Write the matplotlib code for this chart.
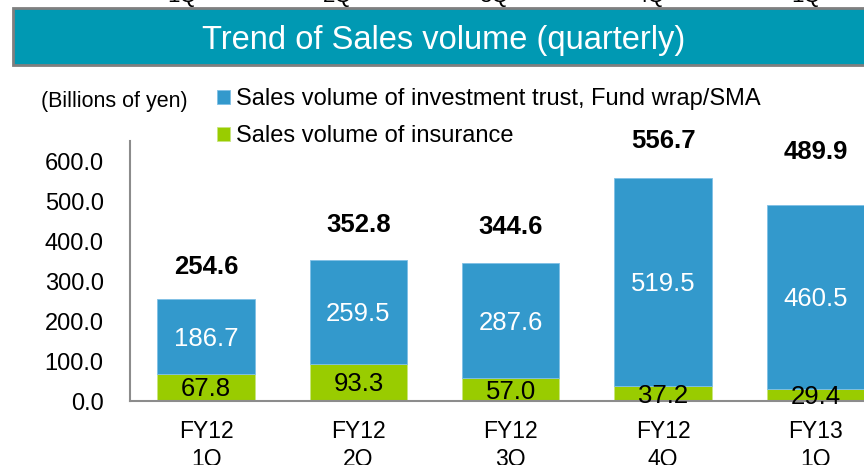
import matplotlib
matplotlib.use("Agg")
import matplotlib.pyplot as plt
from matplotlib.patches import Rectangle

plt.rcParams['font.family'] = ['Liberation Sans', 'DejaVu Sans']

# data (billions of yen)
quarters = ['FY12\n1Q', 'FY12\n2Q', 'FY12\n3Q', 'FY12\n4Q', 'FY13\n1Q']
insurance = [67.8, 93.3, 57.0, 37.2, 29.4]
invest_trust = [186.7, 259.5, 287.6, 519.5, 460.5]
totals = [254.6, 352.8, 344.6, 556.7, 489.9]
prev_row = ['1Q', '2Q', '3Q', '4Q', '1Q']  # clipped labels of the slide above

blue = '#3399CC'
green = '#99CC00'
teal = '#0099B3'

W, H = 864, 465
fig = plt.figure(figsize=(W / 100, H / 100), dpi=100)

# title banner
fig.patches.append(Rectangle((13 / W, 1 - 65 / H), 880 / W, 57 / H, transform=fig.transFigure,
                             facecolor=teal, edgecolor='#7f7f7f', linewidth=2))
fig.text(444 / W, 1 - 40 / H, 'Trend of Sales volume (quarterly)', color='white',
         fontsize=23.5, ha='center', va='center')

# bits of the previous row that stick out at the top
for i, lab in enumerate(prev_row):
    fig.text((182 + i * 156) / W, 1 - 2 / H, lab, fontsize=16, ha='center', va='baseline')

ax = fig.add_axes([130 / W, 64 / H, 761.5 / W, 260 / H])
x = list(range(len(quarters)))
b1 = ax.bar(x, insurance, width=0.64, color=green, edgecolor='#c8e680', linewidth=0.6,
            label='Sales volume of insurance')
b2 = ax.bar(x, invest_trust, width=0.64, bottom=insurance, color=blue, edgecolor='#80c0e6',
            linewidth=0.6, label='Sales volume of investment trust, Fund wrap/SMA')

ax.set_xlim(-0.5, 4.5)
ax.set_ylim(0, 650)
ax.set_yticks(range(0, 700, 100))
ax.set_yticklabels(['%.1f' % v for v in range(0, 700, 100)])
ax.set_xticks(x)
ax.set_xticklabels(quarters, linespacing=1.25)
ax.tick_params(axis='y', length=0, pad=19, labelsize=17)
ax.tick_params(axis='x', length=0, pad=14, labelsize=16.5)
for s in ['top', 'right']:
    ax.spines[s].set_visible(False)
for s in ['left', 'bottom']:
    ax.spines[s].set_color('#8c8c8c')
    ax.spines[s].set_linewidth(1.5)

# segment labels
for i in x:
    ax.annotate('%.1f' % insurance[i], (i, insurance[i] / 2), xytext=(0, -2),
                textcoords='offset pixels', ha='center', va='center', fontsize=18.5)
    ax.annotate('%.1f' % invest_trust[i], (i, insurance[i] + invest_trust[i] / 2), xytext=(0, -2),
                textcoords='offset pixels', ha='center', va='center', fontsize=18.5, color='white')

# totals above bars
gaps = [32, 35, 36, 37, 53]
for i in x:
    ax.annotate('%.1f' % totals[i], (i, insurance[i] + invest_trust[i]), xytext=(0, gaps[i]),
                textcoords='offset pixels', ha='center', va='center', fontsize=18.5,
                fontweight='bold')

fig.text(41 / W, 1 - 101 / H, '(Billions of yen)', fontsize=15.5, va='center', ha='left')
fig.legend(handles=[b2, b1], loc='upper left', bbox_to_anchor=(217 / W, 1 - 88 / H),
           frameon=False, fontsize=17, handlelength=0.55, handleheight=0.55,
           handletextpad=0.25, labelspacing=0.65, borderpad=0, borderaxespad=0)

fig.savefig('out.png', dpi=100)
